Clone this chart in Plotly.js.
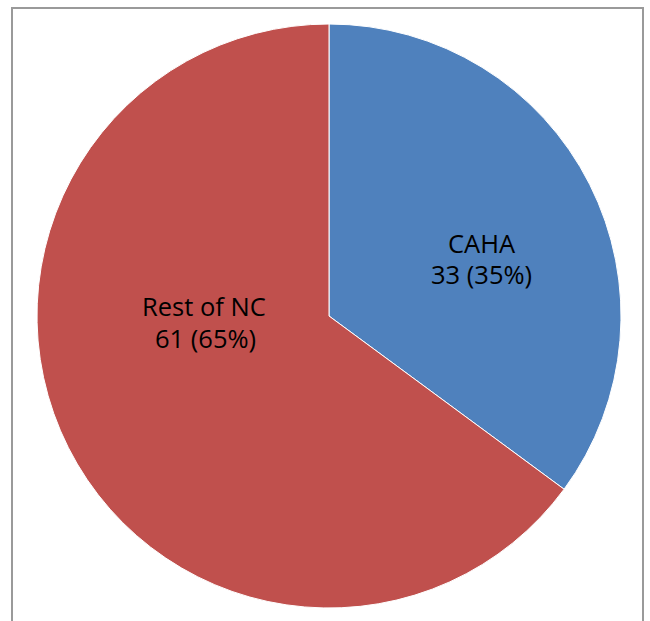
<!DOCTYPE html>
<html>
<head>
<meta charset="utf-8">
<script src="https://cdn.plot.ly/plotly-3.0.1.min.js"></script>
<style>html,body{margin:0;padding:0;background:#fff;}#chart{width:650px;height:621px;}</style>
</head>
<body>
<div id="chart"></div>
<script>
const categories = ["CAHA", "Rest of NC"];
const values = [33, 61];
const colors = ["#4F81BD", "#C0504D"];

const total = values.reduce((a, b) => a + b, 0);
const labelLines = categories.map((c, i) => [c, values[i] + " (" + Math.round(values[i] / total * 100) + "%)"]);

// label anchor positions (paper coords), one per category, two lines each
const labelPos = [
  [[482 / 650, 1 - 243 / 621], [481 / 650, 1 - 274 / 621]],
  [[204 / 650, 1 - 306 / 621], [205 / 650, 1 - 338 / 621]]
];

const annotations = [];
labelLines.forEach((lines, i) => {
  lines.forEach((t, j) => {
    annotations.push({
      text: t, x: labelPos[i][j][0], y: labelPos[i][j][1],
      xref: "paper", yref: "paper", showarrow: false,
      xanchor: "center", yanchor: "middle",
      font: {family: "Open Sans, sans-serif", size: 25.5, color: "#000"}
    });
  });
});

const trace = {
  type: "pie",
  labels: categories,
  values: values,
  sort: false,
  direction: "clockwise",
  rotation: 0,
  marker: {colors: colors, line: {color: "#ffffff", width: 1}},
  textinfo: "none",
  hoverinfo: "label+value+percent",
  domain: {x: [37 / 650, 621 / 650], y: [1 - 608 / 621, 1 - 24 / 621]},
  showlegend: false
};

const layout = {
  width: 650, height: 621,
  margin: {l: 0, r: 0, t: 0, b: 0},
  paper_bgcolor: "#ffffff",
  showlegend: false,
  annotations: annotations,
  shapes: [{
    type: "rect", xref: "paper", yref: "paper",
    x0: 12 / 650, x1: 643 / 650, y0: -0.1, y1: 1 - 8 / 621,
    line: {color: "#9a9a9a", width: 2}, fillcolor: "rgba(0,0,0,0)", layer: "below"
  }]
};

Plotly.newPlot("chart", [trace], layout, {displayModeBar: false, staticPlot: true});
</script>
</body>
</html>
